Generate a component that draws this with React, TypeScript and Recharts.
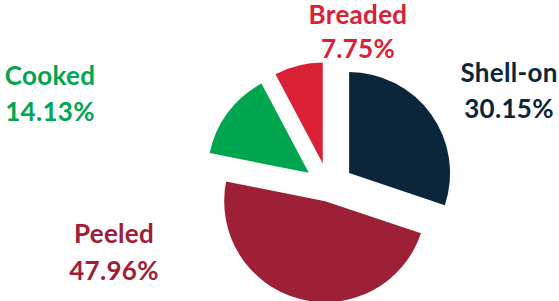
import React from "react";
import { PieChart, Pie, Cell } from "recharts";

const categories = ["Shell-on", "Peeled", "Cooked", "Breaded"];
const shares = [30.15, 47.96, 14.13, 7.75];

const data = categories.map((name, i) => ({ name, value: shares[i] }));

// styling / layout
const COLORS: Record<string, string> = {
  "Shell-on": "#0B263B",
  Peeled: "#9E2036",
  Cooked: "#00A64F",
  Breaded: "#D92037",
};
const EXPLODE: Record<string, number> = {
  "Shell-on": 25,
  Peeled: 14,
  Cooked: 25,
  Breaded: 25,
};
const LABEL_POS: Record<string, { x: number; y1: number; y2: number }> = {
  "Shell-on": { x: 509, y1: 82, y2: 118 },
  Peeled: { x: 114, y1: 243, y2: 280 },
  Cooked: { x: 50, y1: 85, y2: 121 },
  Breaded: { x: 358, y1: 24, y2: 58 },
};

const W = 559;
const H = 301;
const CX = 328.8;
const CY = 187.7;
const R = 101;

const total = shares.reduce((a, b) => a + b, 0);

export default function App() {
  let cum = 0;
  const pies = data.map((d, i) => {
    const start = cum;
    cum += d.value;
    const midFrac = (start + d.value / 2) / total;
    const theta = midFrac * 2 * Math.PI; // clockwise from 12 o'clock
    const off = EXPLODE[d.name];
    const cx = CX + off * Math.sin(theta);
    const cy = CY - off * Math.cos(theta);
    const renderLabel = (props: any) => {
      if (props.index !== i) return null;
      const p = LABEL_POS[d.name];
      const fill = COLORS[d.name];
      const common = {
        textAnchor: "middle" as const,
        fill,
        fontFamily: "Lato, 'Open Sans', sans-serif",
        fontWeight: 700,
        fontSize: 26,
        letterSpacing: 0.3,
      };
      return (
        <g>
          <text x={p.x} y={p.y1} {...common}>
            {d.name}
          </text>
          <text x={p.x} y={p.y2} {...common}>
            {d.value.toFixed(2) + "%"}
          </text>
        </g>
      );
    };
    return (
      <Pie
        key={d.name}
        data={data}
        dataKey="value"
        nameKey="name"
        cx={cx}
        cy={cy}
        innerRadius={0}
        outerRadius={R}
        startAngle={90}
        endAngle={-270}
        stroke="none"
        isAnimationActive={false}
        label={renderLabel}
        labelLine={false}
      >
        {data.map((e, j) => (
          <Cell key={e.name} fill={j === i ? COLORS[e.name] : "none"} />
        ))}
      </Pie>
    );
  });

  return (
    <div style={{ position: "absolute", left: 0, top: 0, background: "#fff" }}>
      <PieChart width={W} height={H} margin={{ top: 0, right: 0, bottom: 0, left: 0 }}>
        {pies}
      </PieChart>
    </div>
  );
}
